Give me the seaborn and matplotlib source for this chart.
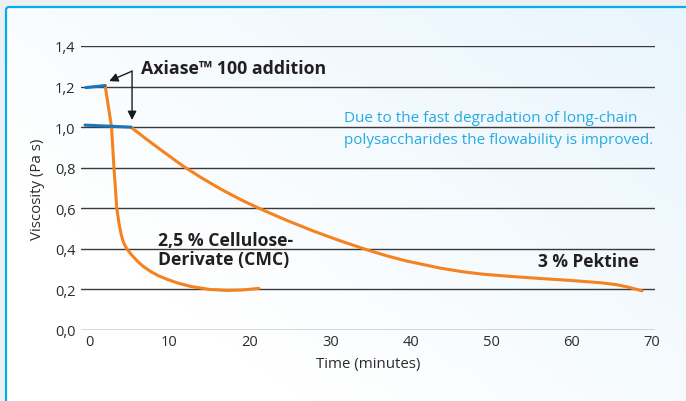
import matplotlib
matplotlib.use("Agg")
import matplotlib.pyplot as plt
import numpy as np
import pandas as pd
import seaborn as sns
from matplotlib.patches import FancyBboxPatch
from matplotlib.ticker import FuncFormatter

# DATA
CMC_START_T = [-0.4, 2.0]
CMC_START_V = [1.195, 1.205]
CMC_T = [2.0, 2.8, 3.1, 3.45, 3.6, 3.75, 4.0, 4.3, 4.7, 5.3, 6.0, 6.7, 7.6, 8.6, 9.7, 11.0, 12.6, 15.0, 17.2, 19.0, 21.1]
CMC_V = [1.205, 1.0, 0.8, 0.6, 0.56, 0.52, 0.47, 0.43, 0.40, 0.37, 0.34, 0.315, 0.29, 0.268, 0.25, 0.232, 0.215, 0.2, 0.195, 0.197, 0.205]

PEK_START_T = [-0.5, 5.2]
PEK_START_V = [1.01, 1.0]
PEK_T = [5.2, 7.0, 9.0, 11.7, 14.0, 16.5, 19.0, 21.3, 24.5, 27.9, 31.0, 34.6, 37.0, 39.5,
         43.7, 46.5, 49.0, 52.5, 56.1, 60.0, 63.6, 65.5, 66.9, 68.8]
PEK_V = [1.0, 0.945, 0.886, 0.808, 0.75, 0.692, 0.64, 0.597, 0.542, 0.488, 0.443, 0.395, 0.366, 0.34,
         0.305, 0.287, 0.275, 0.264, 0.254, 0.244, 0.233, 0.224, 0.213, 0.193]

Y_TICKS = [0.0, 0.2, 0.4, 0.6, 0.8, 1.0, 1.2, 1.4]
X_TICKS = [0, 10, 20, 30, 40, 50, 60, 70]

ORANGE = "#F5821F"
BLUE = "#1B75BB"
CYAN = "#00AEEF"
DARK = "#2b2b2b"

sns.set_theme(style="white")
plt.rcParams["font.family"] = ["Open Sans", "DejaVu Sans"]

W, H = 686, 402
fig = plt.figure(figsize=(W / 100, H / 100), dpi=100)

# background: grey frame, white-to-light-blue panel with cyan border
bg = fig.add_axes([0, 0, 1, 1])
bg.set_xlim(0, W)
bg.set_ylim(H, 0)
bg.axis("off")
yy, xx = np.mgrid[0:1:50j, 0:1:80j]
t = np.clip(0.75 * xx + 0.6 * (1 - yy) - 0.35, 0, 1)
c0 = np.array([1.0, 1.0, 1.0])
c1 = np.array([0.91, 0.96, 0.99])
grad = c0[None, None, :] * (1 - t[..., None]) + c1[None, None, :] * t[..., None]
bg.add_patch(plt.Rectangle((0, 0), W, H, color="#eeeff0", zorder=0))
bg.imshow(grad, extent=(6, W + 20, H + 20, 8), zorder=1, aspect="auto")
bg.add_patch(FancyBboxPatch((6, 8), W + 20, H + 20,
                            boxstyle="round,pad=0,rounding_size=3",
                            fill=False, ec=CYAN, lw=1.6, zorder=2))

ax = fig.add_axes([81 / W, 1 - 331 / H, (655 - 81) / W, (331 - 47) / H])
ax.patch.set_alpha(0)

line_kw = dict(ax=ax, lw=2.2, sort=False, estimator=None)
sns.lineplot(x=CMC_T, y=CMC_V, color=ORANGE, **line_kw)
sns.lineplot(x=PEK_T, y=PEK_V, color=ORANGE, **line_kw)
sns.lineplot(x=CMC_START_T, y=CMC_START_V, color=BLUE, **line_kw)
sns.lineplot(x=PEK_START_T, y=PEK_START_V, color=BLUE, **line_kw)
for ln in ax.lines:
    ln.set_solid_joinstyle("round")

ax.set_xlim(-1.0, 70.4)
ax.set_ylim(0, 1.4)
ax.set_yticks(Y_TICKS)
ax.set_xticks(X_TICKS)
ax.yaxis.set_major_formatter(FuncFormatter(lambda v, p: f"{v:.1f}".replace(".", ",")))
for s in ax.spines.values():
    s.set_visible(False)
ax.grid(axis="y", color="#3a3a3a", lw=1.0)
ax.grid(axis="x", visible=False)
ax.set_axisbelow(True)
ax.tick_params(axis="y", length=0, pad=4, labelsize=10.5, labelcolor=DARK)
ax.tick_params(axis="x", length=0, pad=3, labelsize=10.5, labelcolor=DARK)
ax.set_ylabel("Viscosity (Pa s)", fontsize=10.8, color=DARK, labelpad=7)
ax.set_xlabel("Time (minutes)", fontsize=10.8, color=DARK, labelpad=5)

# arrows for the enzyme addition
arrow = dict(arrowstyle="-|>", color="#1a1a1a", lw=1.0, mutation_scale=13, shrinkA=0, shrinkB=0)
ax.annotate("", xy=(2.5, 1.227), xytext=(5.35, 1.276), arrowprops=arrow)
ax.annotate("", xy=(5.35, 1.035), xytext=(5.35, 1.276), arrowprops=arrow)

ax.text(6.5, 1.29, "Axiase™ 100 addition", fontsize=12.8, fontweight="bold",
        color="#231f20", va="center")
ax.text(31.7, 0.993, "Due to the fast degradation of long-chain\npolysaccharides the flowability is improved.",
        fontsize=11, color="#27AAE1", va="center", linespacing=1.62, clip_on=False)
ax.text(8.6, 0.397, "2,5 % Cellulose-\nDerivate (CMC)", fontsize=12.7, fontweight="bold",
        color="#231f20", va="center", linespacing=1.12)
ax.text(55.8, 0.34, "3 % Pektine", fontsize=12.5, fontweight="bold",
        color="#231f20", va="center")

fig.savefig("out.png", dpi=100)
